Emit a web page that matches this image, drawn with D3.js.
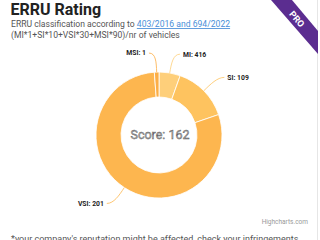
<!DOCTYPE html>
<html>
<head>
<meta charset="utf-8">
<script src="https://cdn.jsdelivr.net/npm/d3@7"></script>
<style>
  html, body { margin: 0; padding: 0; background: #fff; }
  svg { display: block; }
</style>
</head>
<body>
<div id="chart"></div>
<script>

// --------------------------------------------------------
// data
var categories   = [ "MI", "SI", "VSI", "MSI" ];
var counts       = [ 416, 109, 201, 1 ];
var weights      = [ 1, 10, 30, 90 ];          // slice size = count * weight
var colors       = [ "#fecf7a", "#fec35f", "#fdb64f", "#fcae45" ];
var score        = 162;

// --------------------------------------------------------
var chart_width  = 320;
var chart_height = 240;
var cx = 159, cy = 135;
var outer_r = 63, inner_r = 38;
var label_dist = 19;

var svg = d3.select( "#chart" )
	.append( "svg" )
	.attr( "width", chart_width )
	.attr( "height", chart_height )
	.style( "font-family", "Roboto, 'Noto Sans', sans-serif" );

// card border on the right
svg.append( "line" )
	.attr( "x1", 317.5 ).attr( "x2", 317.5 )
	.attr( "y1", 0 ).attr( "y2", chart_height )
	.attr( "stroke", "#e6e6e6" );

// --------------------------------------------------------
// header texts
svg.append( "text" )
	.attr( "x", 10.5 ).attr( "y", 15 )
	.attr( "font-size", 16 ).attr( "font-weight", "bold" )
	.attr( "fill", "#222" )
	.text( "ERRU Rating" );

var sub = svg.append( "text" )
	.attr( "x", 11 ).attr( "y", 27 )
	.attr( "font-size", 8.6 ).attr( "fill", "#555" );
sub.append( "tspan" ).text( "ERRU classification according to " );
sub.append( "tspan" )
	.attr( "fill", "#4a8fd8" )
	.attr( "text-decoration", "underline" )
	.text( "403/2016 and 694/2022" );

svg.append( "text" )
	.attr( "x", 11 ).attr( "y", 38 )
	.attr( "font-size", 8.6 ).attr( "fill", "#555" )
	.text( "(MI*1+SI*10+VSI*30+MSI*90)/nr of vehicles" );

// --------------------------------------------------------
// donut
var pie = d3.pie()
	.sort( null )
	.value( (d, i) => counts[i] * weights[i] );

var arcs = pie( categories );

var arc = d3.arc()
	.innerRadius( inner_r )
	.outerRadius( outer_r );

var g = svg.append( "g" )
	.attr( "transform", "translate(" + cx + "," + cy + ")" );

g.selectAll( "path.slice" )
	.data( arcs )
	.enter()
	.append( "path" )
	.attr( "class", "slice" )
	.attr( "d", arc )
	.attr( "fill", (d, i) => colors[i] )
	.attr( "stroke", "#fff" )
	.attr( "stroke-width", 0.8 );

// labels + soft connectors
arcs.forEach( (d, i) => {
	var a    = (d.startAngle + d.endAngle) / 2;
	var side = Math.sin( a ) >= 0 ? 1 : -1;
	var lx   = (outer_r + label_dist) * Math.sin( a );
	var ly   = -(outer_r + label_dist) * Math.cos( a );
	var px   = outer_r * Math.sin( a );
	var py   = -outer_r * Math.cos( a );
	var tx   = lx + side * 10;

	g.append( "path" )
		.attr( "d", "M" + (tx - side * 3) + "," + ly +
			"C" + lx + "," + ly + " " + (lx + px) / 2 + "," + (ly + py) / 2 + " " + px + "," + py )
		.attr( "fill", "none" )
		.attr( "stroke", colors[i] )
		.attr( "stroke-opacity", 0.8 )
		.attr( "stroke-width", 1 );

	g.append( "text" )
		.attr( "x", tx )
		.attr( "y", ly )
		.attr( "dy", "0.35em" )
		.attr( "text-anchor", side > 0 ? "start" : "end" )
		.attr( "font-size", 6.8 )
		.attr( "font-weight", "bold" )
		.attr( "fill", "#222" )
		.text( categories[i] + ": " + counts[i] );
});

// center score
g.append( "text" )
	.attr( "x", 1 ).attr( "y", 0 )
	.attr( "dy", "0.35em" )
	.attr( "text-anchor", "middle" )
	.attr( "font-size", 12.5 )
	.attr( "fill", "#b0b0b0" )
	.attr( "stroke", "#555" )
	.attr( "stroke-width", 0.4 )
	.text( "Score: " + score );

// --------------------------------------------------------
// credits + footnote
svg.append( "text" )
	.attr( "x", 308 ).attr( "y", 224 )
	.attr( "text-anchor", "end" )
	.attr( "font-size", 6.5 ).attr( "fill", "#999" )
	.text( "Highcharts.com" );

svg.append( "text" )
	.attr( "x", 11 ).attr( "y", 242 )
	.attr( "font-size", 9 ).attr( "fill", "#555" )
	.text( "*your company's reputation might be affected, check your infringements" );

// --------------------------------------------------------
// PRO ribbon
svg.append( "polygon" )
	.attr( "points", "271,0 292,0 318,31 318,54" )
	.attr( "fill", "#5b2d90" );

svg.append( "text" )
	.attr( "transform", "translate(297,19) rotate(50)" )
	.attr( "text-anchor", "middle" )
	.attr( "dy", "0.35em" )
	.attr( "font-size", 9 ).attr( "font-weight", "bold" )
	.attr( "fill", "#fff" )
	.text( "PRO" );

</script>
</body>
</html>
